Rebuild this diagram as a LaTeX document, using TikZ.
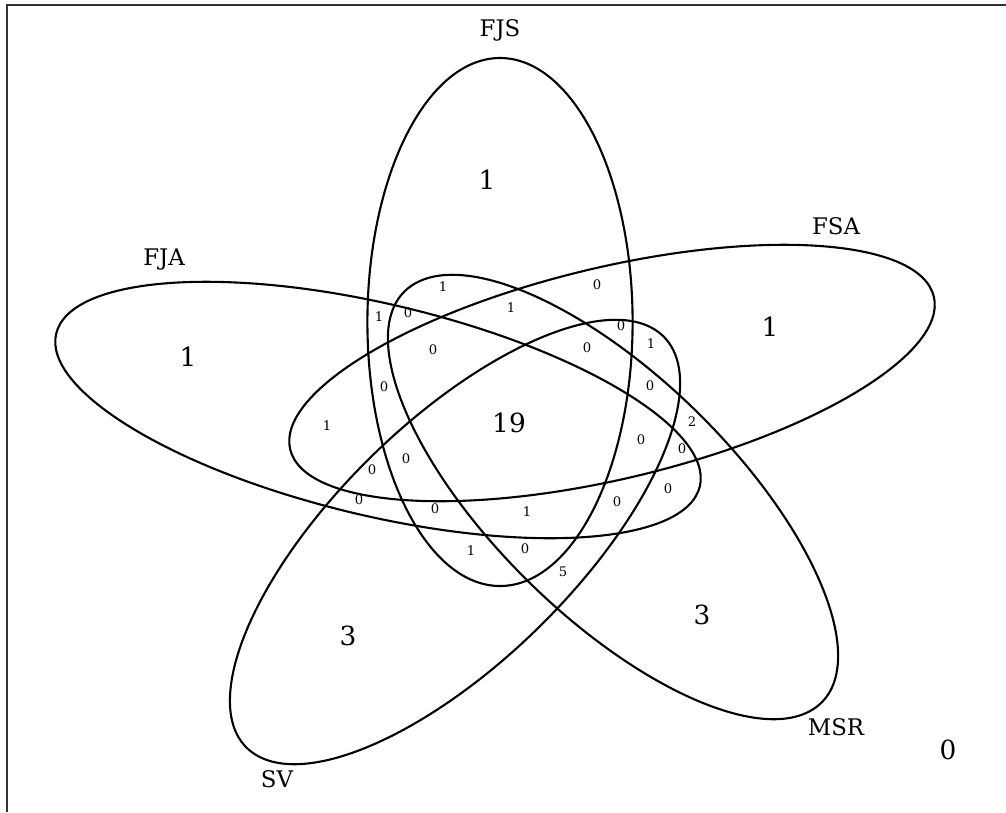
\documentclass[tikz,border=0pt]{standalone}
\usepackage{fontspec}
\setmainfont{DejaVu Serif}
\begin{document}
\begin{tikzpicture}[x=0.02cm,y=-0.02cm,
  setline/.style={line width=1.2pt},
  setname/.style={font=\fontsize{13}{13}\selectfont},
  bignum/.style={font=\fontsize{15}{15}\selectfont},
  smallnum/.style={font=\fontsize{7.5}{7.5}\selectfont}]
\useasboundingbox (0,0) rectangle (1006,812);
\draw[line width=1.5pt,black!80] (7,812) -- (7,5) -- (1006,5);

\coordinate (FJS) at (500,322);
\coordinate (FSA) at (612,373);
\coordinate (FJA) at (378,410);
\coordinate (SV) at (455,542);
\coordinate (MSR) at (613,497);

\draw[setline,shift={(FJS)},xscale=1.275,rotate=90] (0,0) ellipse [x radius=264,y radius=104];
\draw[setline,shift={(FJA)},xscale=1.275,rotate=162] (0,0) ellipse [x radius=264,y radius=104];
\draw[setline,shift={(SV)},xscale=1.275,rotate=234] (0,0) ellipse [x radius=264,y radius=104];
\draw[setline,shift={(MSR)},xscale=1.275,rotate=306] (0,0) ellipse [x radius=264,y radius=104];
\draw[setline,shift={(FSA)},xscale=1.275,rotate=18] (0,0) ellipse [x radius=264,y radius=104];

\node[setname] (lFJS) at (500,30) {FJS};
\node[setname] (lFSA) at (836,226) {FSA};
\node[setname] (lFJA) at (164,260) {FJA};
\node[setname] (lMSR) at (836,727) {MSR};
\node[setname] (lSV) at (277,779) {SV};

\node[bignum] (cFJS) at (487,180) {1};
\node[bignum] (cFSA) at (770,327) {1};
\node[bignum] (cFJA) at (188,357) {1};
\node[bignum] (cSV) at (348,636) {3};
\node[bignum] (cMSR) at (702,615) {3};
\node[bignum] (cAll) at (509,423) {19};
\node[bignum] (cOut) at (948,750) {0};

\foreach \px/\py/\n [count=\i] in {443/287/1, 379/317/1, 408/313/0, 433/350/0, 384/387/0,
    597/285/0, 511/308/1, 621/326/0, 651/344/1, 587/348/0, 650/386/0, 692/422/2,
    327/426/1, 406/459/0, 372/470/0, 359/500/0, 435/509/0, 471/551/1,
    641/440/0, 682/449/0, 668/489/0, 617/502/0, 527/512/1, 525/549/0, 563/572/5}
  \node[smallnum] (s\i) at (\px,\py) {\n};
\end{tikzpicture}
\end{document}
